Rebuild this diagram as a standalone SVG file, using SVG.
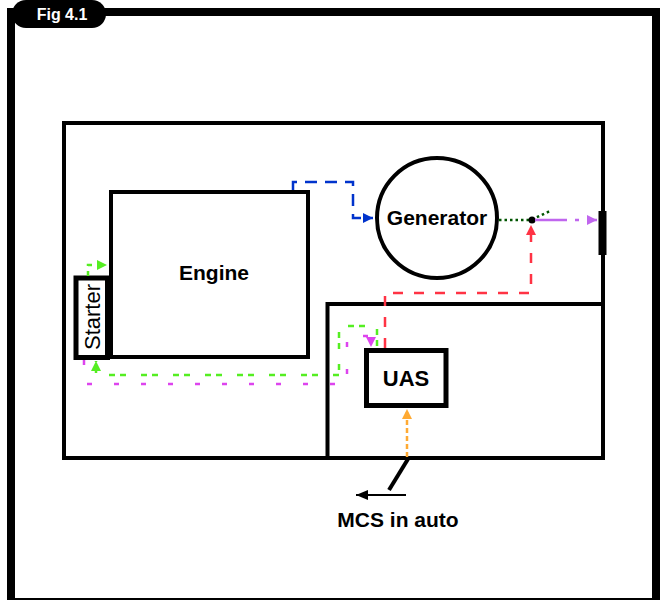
<svg xmlns="http://www.w3.org/2000/svg" width="660" height="600" viewBox="0 0 660 600">
<style>
.box{fill:#fff;stroke:#000;stroke-width:4}
.lbl{font-family:"Liberation Sans",Arial,sans-serif;font-weight:bold;fill:#000;text-anchor:middle}
.c{fill:none}
</style>
<defs>
<marker id="aBlue" markerUnits="userSpaceOnUse" markerWidth="12" markerHeight="12" refX="10" refY="5" orient="auto"><path d="M0,0 L10,5 L0,10 Z" fill="#0033cc"/></marker>
<marker id="aRed" markerUnits="userSpaceOnUse" markerWidth="12" markerHeight="12" refX="10" refY="5" orient="auto"><path d="M0,0 L10,5 L0,10 Z" fill="#ff3344"/></marker>
<marker id="aGreen" markerUnits="userSpaceOnUse" markerWidth="12" markerHeight="12" refX="10" refY="5" orient="auto"><path d="M0,0 L10,5 L0,10 Z" fill="#55ee22"/></marker>
<marker id="aMag" markerUnits="userSpaceOnUse" markerWidth="12" markerHeight="12" refX="10" refY="5" orient="auto"><path d="M0,0 L10,5 L0,10 Z" fill="#dd44ee"/></marker>
<marker id="aPurp" markerUnits="userSpaceOnUse" markerWidth="12" markerHeight="12" refX="10" refY="5" orient="auto"><path d="M0,0 L10,5 L0,10 Z" fill="#c066ee"/></marker>
<marker id="aOrange" markerUnits="userSpaceOnUse" markerWidth="12" markerHeight="12" refX="10" refY="5" orient="auto"><path d="M0,0 L10,5 L0,10 Z" fill="#ffaa33"/></marker>
<marker id="aBlack" markerUnits="userSpaceOnUse" markerWidth="14" markerHeight="12" refX="12" refY="5" orient="auto"><path d="M0,0 L12,5 L0,10 Z" fill="#000"/></marker>
</defs>
<rect width="660" height="600" fill="#fff"/>
<g id="frame">
<rect x="11" y="12" width="645" height="590" fill="none" stroke="#000" stroke-width="8"/>
<rect x="12" y="0" width="94" height="28" rx="14" fill="#000"/>
<text x="62" y="20" class="lbl" style="fill:#fff;font-size:16px">Fig 4.1</text>
</g>
<g id="enclosure">
<rect x="64" y="123" width="539" height="335" fill="none" stroke="#000" stroke-width="4"/>
</g>
<g id="panel">
<rect x="327.5" y="304" width="275.5" height="154" fill="none" stroke="#000" stroke-width="4"/>
</g>
<g id="engine">
<rect x="111" y="192" width="197" height="165" class="box"/>
<text x="214" y="280" class="lbl" style="font-size:21px">Engine</text>
</g>
<g id="starter">
<rect x="76" y="278" width="31.5" height="79.5" fill="#fff" stroke="#000" stroke-width="5"/>
<text transform="translate(100,317) rotate(-90)" x="0" y="0" text-anchor="middle" style="font-family:'Liberation Sans',Arial,sans-serif;font-size:22px">Starter</text>
</g>
<g id="generator">
<circle cx="437" cy="218" r="60" class="box"/>
<text x="437" y="225" class="lbl" style="font-size:21px">Generator</text>
</g>
<g id="uas">
<rect x="366.5" y="350.5" width="79.5" height="55" fill="#fff" stroke="#000" stroke-width="5"/>
<text x="406" y="386" class="lbl" style="font-size:22px">UAS</text>
</g>
<g id="breaker">
<rect x="598.5" y="211" width="8" height="44" fill="#000"/>
</g>
<g id="connectors">
<path class="c" d="M293,190 V182 H353 V218 H373" stroke="#0033cc" stroke-width="2.5" stroke-dasharray="12 8" marker-end="url(#aBlue)"/>
<path class="c" d="M499,220 H531 L550,211" stroke="#005500" stroke-width="2.5" stroke-dasharray="2.5 3"/>
<circle cx="532" cy="220" r="3.5" fill="#000"/>
<path class="c" d="M535,220 H597" stroke="#c066ee" stroke-width="2.5" stroke-dasharray="32 8 4 8" marker-end="url(#aPurp)"/>
<path class="c" d="M385,348 V293 H531 V225" stroke="#ff3344" stroke-width="2.5" stroke-dasharray="10 11" marker-end="url(#aRed)"/>
<path class="c" d="M407,457 V409" stroke="#ffaa33" stroke-width="2.5" stroke-dasharray="5 3" marker-end="url(#aOrange)"/>
<path class="c" d="M88,276 V265 H107" stroke="#55ee22" stroke-width="2.5" stroke-dasharray="5 5" marker-end="url(#aGreen)"/>
<path class="c" d="M377,346 V326 H339 V375 H96 V361" stroke="#55ee22" stroke-width="2.5" stroke-dasharray="6 5 6 15" marker-end="url(#aGreen)"/>
<path class="c" d="M84,360 V384 H347 V336 H371 V347" stroke="#dd44ee" stroke-width="2.5" stroke-dasharray="5 22" marker-end="url(#aMag)"/>
<path class="c" d="M408,459 L389,490" stroke="#000" stroke-width="4"/>
<path class="c" d="M406,495 H356" stroke="#000" stroke-width="2" marker-end="url(#aBlack)"/>
</g>
<g id="mcs">
<text x="398" y="527" class="lbl" style="font-size:21px">MCS in auto</text>
</g>
</svg>
